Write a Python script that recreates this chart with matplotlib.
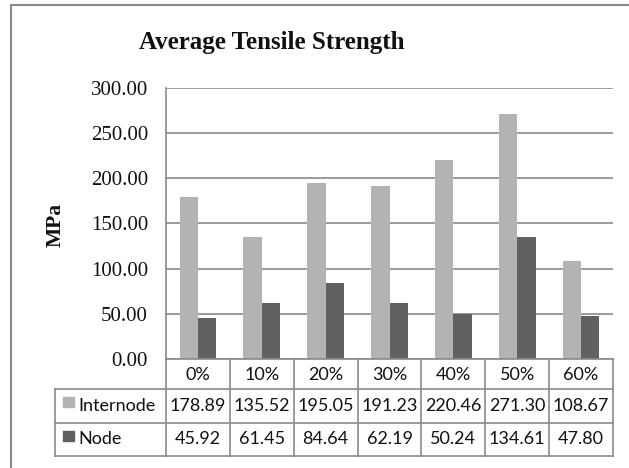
import matplotlib
matplotlib.use("Agg")
import matplotlib.pyplot as plt
from matplotlib.patches import Rectangle
from matplotlib.lines import Line2D

# Data
categories = ["0%", "10%", "20%", "30%", "40%", "50%", "60%"]
internode = [178.89, 135.52, 195.05, 191.23, 220.46, 271.30, 108.67]
node = [45.92, 61.45, 84.64, 62.19, 50.24, 134.61, 47.80]
series_names = ["Internode", "Node"]
yticks = [0, 50, 100, 150, 200, 250, 300]

C_INTER = "#b3b3b3"
C_NODE = "#616161"
C_LINE = "#8a8a8a"

W, H = 629, 468
fig = plt.figure(figsize=(W / 100, H / 100), dpi=100)

def fx(px):
    return px / W

def fy(py):
    return 1 - py / H

# plot area in pixel coordinates
L, R, T, B = 166, 613, 88, 359
ax = fig.add_axes([fx(L), fy(B), fx(R - L), (B - T) / H])

n = len(categories)
bw = 0.287
xs = list(range(n))
ax.bar([x - bw / 2 for x in xs], internode, width=bw, color=C_INTER, zorder=3)
ax.bar([x + bw / 2 for x in xs], node, width=bw, color=C_NODE, zorder=3)

ax.set_xlim(-0.5, n - 0.5)
ax.set_ylim(0, 300)
ax.set_yticks(yticks)
ax.set_yticklabels([f"{v:.2f}" for v in yticks], fontfamily="Liberation Serif",
                   fontsize=15, color="#111111")
ax.tick_params(axis="y", length=0, pad=13)
ax.set_xticks([])
ax.yaxis.grid(True, color=C_LINE, linewidth=1.2, zorder=0)
for s in ["top", "right", "bottom"]:
    ax.spines[s].set_visible(False)
ax.spines["left"].set_color(C_LINE)
ax.spines["left"].set_linewidth(1.2)

# title and axis label
fig.text(fx(272), fy(43), "Average Tensile Strength", ha="center", va="center",
         fontfamily="Liberation Serif", fontweight="bold", fontsize=18, color="#111111")
fig.text(fx(56), fy(225), "MPa", ha="center", va="center", rotation=90,
         fontfamily="Liberation Serif", fontweight="bold", fontsize=15.5, color="#111111")

# data table below the plot
rows_y = [359, 389, 423, 456]
label_left = 55
col_w = (R - L) / n
col_x = [L + i * col_w for i in range(n + 1)]

lines = []
lines.append(((L, R), (rows_y[0], rows_y[0])))
for y in rows_y[1:]:
    lines.append(((label_left, R), (y, y)))
for x in col_x:
    lines.append(((x, x), (rows_y[0], rows_y[3])))
lines.append(((label_left, label_left), (rows_y[1], rows_y[3])))
for (xx, yy) in lines:
    fig.add_artist(Line2D([fx(xx[0]), fx(xx[1])], [fy(yy[0]), fy(yy[1])],
                          color=C_LINE, linewidth=1.2, transform=fig.transFigure))

tfont = dict(fontfamily="Lato", fontsize=13, color="#111111")
for i, c in enumerate(categories):
    cx = col_x[i] + col_w / 2
    fig.text(fx(cx), fy((rows_y[0] + rows_y[1]) / 2 + 1), c, ha="center", va="center", **tfont)
    fig.text(fx(cx), fy((rows_y[1] + rows_y[2]) / 2), f"{internode[i]:.2f}",
             ha="center", va="center", **tfont)
    fig.text(fx(cx), fy((rows_y[2] + rows_y[3]) / 2), f"{node[i]:.2f}",
             ha="center", va="center", **tfont)

for k, (name, col) in enumerate(zip(series_names, [C_INTER, C_NODE])):
    yc = (rows_y[1 + k] + rows_y[2 + k]) / 2
    fig.add_artist(Rectangle((fx(63), fy(yc + 1)), fx(11), 10 / H, color=col,
                             transform=fig.transFigure))
    fig.text(fx(78), fy(yc), name, ha="left", va="center", **tfont)

# chart border
fig.add_artist(Line2D([fx(11), fx(W + 5)], [fy(4.5), fy(4.5)], color=C_LINE,
                      linewidth=1.5, transform=fig.transFigure))
fig.add_artist(Line2D([fx(11), fx(11)], [fy(4.5), fy(H + 5)], color=C_LINE,
                      linewidth=1.5, transform=fig.transFigure))

fig.savefig("out.png", dpi=100, facecolor="white")
